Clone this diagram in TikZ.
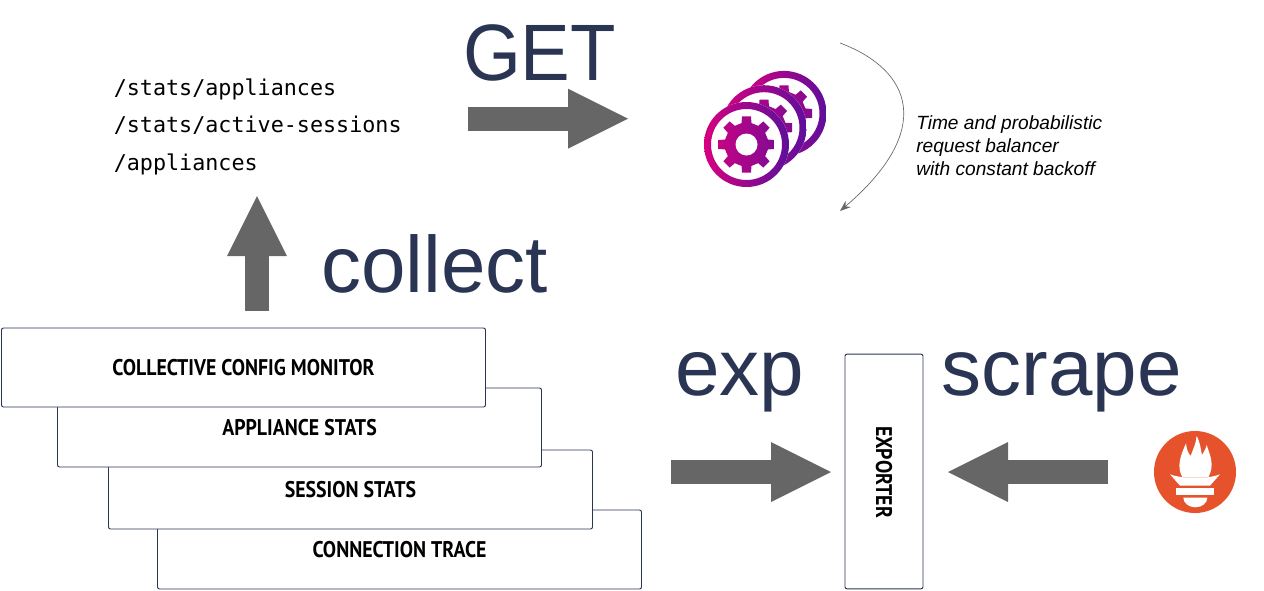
\documentclass[tikz,border=0pt]{standalone}
\usepackage{fontspec}
\setmainfont{Liberation Sans}
\newfontfamily\monofont{DejaVu Sans Mono}
\newfontfamily\boxfont[FakeStretch=0.875]{PT Sans}
\usetikzlibrary{arrows.meta}
\definecolor{navy}{HTML}{2A3553}
\definecolor{arrowgrey}{HTML}{666666}
\definecolor{gearpink}{HTML}{D6007F}
\definecolor{gearpurple}{HTML}{5E0F9B}
\definecolor{promred}{HTML}{E6522C}
\tikzset{
  layerbox/.style={draw=navy, line width=0.7pt, rounded corners=1.5pt, fill=white, minimum width=363pt, minimum height=59.25pt, inner sep=0pt, font=\boxfont\bfseries\fontsize{17}{20}\selectfont},
  headline/.style={text=navy, anchor=base, inner sep=0pt, font=\fontsize{60}{60}\selectfont},
  pathline/.style={anchor=base west, inner sep=0pt, font=\monofont\fontsize{16.3}{20}\selectfont},
  blockarrow/.style={draw=arrowgrey, line width=18pt, -{Triangle[length=45pt, width=45pt, line width=0pt]}},
  gearwheel/.pic={
    \fill[white] (0,0) circle (42.5);
    \path[left color=gearpink, right color=gearpurple, even odd rule] (0,0) circle (42.5) (0,0) circle (35.5);
    \path[left color=gearpink!85!gearpurple, right color=gearpurple!70!gearpink] (-13:22) \foreach \a in {0,45,...,315} { -- (\a-13:22) -- (\a-9:28.5) -- (\a+9:28.5) -- (\a+13:22) } -- cycle;
    \fill[white] (0,0) circle (11);
  }
}
\begin{document}
\begin{tikzpicture}[x=0.75pt, y=-0.75pt]
  \useasboundingbox (0,0) rectangle (1264,590);

  % Stacked boxes
  \node[layerbox] at (399.5,549.5) (trace) {CONNECTION TRACE};
  \node[layerbox] at (350.5,489.5) (session) {SESSION STATS};
  \node[layerbox] at (299.5,427.5) (appliance) {APPLIANCE STATS};
  \node[layerbox] at (243.5,367.5) (monitor) {COLLECTIVE CONFIG MONITOR};
  \node[draw=navy, line width=0.7pt, rounded corners=1.5pt, minimum width=58.5pt, minimum height=176pt, inner sep=0pt] at (884,471.5) (exporter) {};
  \node[rotate=-90, inner sep=0pt, font=\boxfont\bfseries\fontsize{17}{20}\selectfont] at (884,472) (exporterlabel) {EXPORTER};

  % Paths
  \node[pathline] at (113.5,95) (statsapp) {/stats/appliances};
  \node[pathline] at (113.5,132.5) (statssess) {/stats/active-sessions};
  \node[pathline] at (113.5,170) (appliances) {/appliances};

  % Headlines
  \node[headline, xscale=0.93] at (539.5,80) (get) {GET};
  \node[headline] at (434.5,292) (collect) {collect};
  \node[headline] at (739.5,395) (exp) {exp};
  \node[headline] at (1061.5,395) (scrape) {scrape};

  % Block arrows
  \coordinate (getA) at (468,118.7);
  \coordinate (getB) at (628,118.7);
  \coordinate (collectA) at (257,311);
  \coordinate (collectB) at (257,196);
  \coordinate (expA) at (671,472);
  \coordinate (expB) at (831,472);
  \coordinate (scrapeA) at (1108,472);
  \coordinate (scrapeB) at (948,472);
  \draw[blockarrow] (getA) -- (getB);
  \draw[blockarrow] (collectA) -- (collectB);
  \draw[blockarrow] (expA) -- (expB);
  \draw[blockarrow] (scrapeA) -- (scrapeB);

  % Gears
  \pic at (784,113.4) {gearwheel};
  \pic at (764,127.7) {gearwheel};
  \pic at (746.5,144.5) {gearwheel};

  % Balancer note
  \coordinate (curveA) at (840,43);
  \coordinate (curveB) at (840,211);
  \draw[arrowgrey, line width=0.5pt, -{Stealth[length=8pt, width=6pt]}] (curveA) .. controls (912,70) and (935,130) .. (curveB);
  \node[anchor=north west, inner sep=0pt, align=left, font=\itshape\fontsize{14.35}{17.25}\selectfont] at (916,115) (note) {Time and probabilistic\\request balancer\\with constant backoff};

  % Prometheus logo
  \fill[promred] (1195,472) circle (41);
  \begin{scope}[shift={(1130,420)}, scale=0.3333]
    \fill[white] (157,172) .. controls (140,140) and (150,110) .. (168,70) .. controls (170,90) and (175,100) .. (182,108) .. controls (190,85) and (198,70) .. (200,48) .. controls (212,70) and (212,90) .. (216,105) .. controls (222,95) and (228,85) .. (230,75) .. controls (240,105) and (255,135) .. (235,172) -- cycle;
    \fill[white] (120,163) .. controls (135,168) .. (160,172) -- (232,172) .. controls (255,168) .. (270,163) -- (240,197) -- (150,197) -- cycle;
    \fill[white] (137,204) rectangle (253,224);
    \fill[white] (160,233) -- (232,233) arc (0:180:36 and 29) -- cycle;
  \end{scope}
\end{tikzpicture}
\end{document}
